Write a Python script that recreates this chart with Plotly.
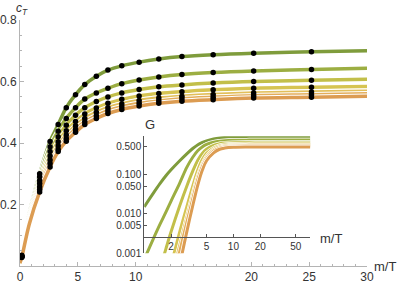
import plotly.graph_objects as go

# ---------------- data ----------------
x_line = [0, 0.15, 0.8, 1.7, 2.6, 3.3, 4.0, 4.8, 5.6, 6.6, 7.6, 8.8, 10.3, 12.0, 14.0, 16.7, 20.2, 25.2, 30]
c1 = [0.012, 0.035, 0.170, 0.300, 0.405, 0.460, 0.515, 0.557, 0.590, 0.617, 0.637, 0.651, 0.663, 0.673, 0.681, 0.687, 0.692, 0.697, 0.700]
c2 = [0.011, 0.033, 0.163, 0.290, 0.388, 0.438, 0.480, 0.515, 0.543, 0.563, 0.578, 0.593, 0.605, 0.615, 0.623, 0.629, 0.634, 0.639, 0.643]
c3 = [0.010, 0.032, 0.156, 0.278, 0.372, 0.420, 0.458, 0.490, 0.515, 0.535, 0.550, 0.563, 0.574, 0.583, 0.589, 0.595, 0.600, 0.604, 0.607]
c4 = [0.010, 0.031, 0.150, 0.268, 0.358, 0.404, 0.440, 0.470, 0.494, 0.514, 0.529, 0.542, 0.553, 0.561, 0.567, 0.573, 0.578, 0.581, 0.584]
c5 = [0.010, 0.030, 0.145, 0.258, 0.345, 0.391, 0.426, 0.456, 0.480, 0.500, 0.515, 0.527, 0.538, 0.546, 0.552, 0.558, 0.563, 0.566, 0.568]
c6 = [0.010, 0.029, 0.140, 0.249, 0.333, 0.380, 0.415, 0.445, 0.469, 0.489, 0.505, 0.518, 0.529, 0.537, 0.544, 0.549, 0.554, 0.557, 0.560]
c7 = [0.010, 0.028, 0.136, 0.241, 0.322, 0.372, 0.406, 0.435, 0.460, 0.480, 0.496, 0.509, 0.520, 0.529, 0.536, 0.541, 0.546, 0.549, 0.552]
main_series = [c1, c2, c3, c4, c5, c6, c7]
dot_index = [1, 3, 4, 5, 6, 7, 8, 9, 10, 11, 12, 13, 14, 15, 16, 17]

g_x = [1, 1.25, 1.5, 1.75, 2, 2.5, 3, 3.5, 4, 4.5, 5, 6, 7, 8, 10, 15, 20, 30, 50, 75]
G1 = [0.015, 0.032, 0.058, 0.092, 0.13, 0.22, 0.33, 0.45, 0.56, 0.64, 0.70, 0.78, 0.83, 0.855, 0.875, 0.885, 0.888, 0.89, 0.89, 0.89]
G2 = [0.0007, 0.0022, 0.0054, 0.011, 0.021, 0.06, 0.15, 0.27, 0.40, 0.50, 0.57, 0.65, 0.69, 0.71, 0.725, 0.733, 0.735, 0.736, 0.736, 0.736]
G3 = [None, 0.00012, 0.0004, 0.0013, 0.0035, 0.016, 0.05, 0.12, 0.23, 0.34, 0.43, 0.54, 0.59, 0.615, 0.63, 0.637, 0.639, 0.64, 0.64, 0.64]
G4 = [None, None, None, 0.00015, 0.0005, 0.0035, 0.015, 0.05, 0.13, 0.24, 0.34, 0.46, 0.53, 0.56, 0.58, 0.588, 0.59, 0.59, 0.59, 0.59]
G5 = [None, None, None, None, 0.0002, 0.0016, 0.008, 0.03, 0.09, 0.18, 0.28, 0.42, 0.49, 0.52, 0.54, 0.548, 0.55, 0.55, 0.55, 0.55]
G6 = [None, None, None, None, 0.00012, 0.0011, 0.006, 0.024, 0.075, 0.16, 0.25, 0.39, 0.46, 0.49, 0.51, 0.518, 0.52, 0.52, 0.52, 0.52]
G7 = [None, None, None, None, None, 0.0005, 0.0035, 0.016, 0.055, 0.13, 0.22, 0.35, 0.43, 0.46, 0.48, 0.488, 0.49, 0.49, 0.49, 0.49]
inset_series = [G1, G2, G3, G4, G5, G6, G7]

colors = ['#7f9c3c', '#9cae42', '#c2bf4a', '#d6c452', '#e2bf5a', '#e3ad5a', '#dc9c52']

x_tickvals = [0, 5, 10, 20, 25, 30]
y_tickvals = [0.2, 0.4, 0.6, 0.8]
y_ticktext = ['0.2', '0.4', '0.6', '0.8']
gx_tickvals = [2, 5, 10, 20, 50]
gy_tickvals = [0.001, 0.005, 0.01, 0.05, 0.1, 0.5]
gy_ticktext = ['0.001', '0.005', '0.010', '0.050', '0.100', '0.500']

# ---------------- figure ----------------
fig = go.Figure()

for ys, col in zip(main_series, colors):
    fig.add_trace(go.Scatter(x=x_line, y=ys, mode='lines', line=dict(color='white', width=5.5, shape='spline'),
                             hoverinfo='skip', xaxis='x', yaxis='y'))
    fig.add_trace(go.Scatter(x=x_line, y=ys, mode='lines', line=dict(color=col, width=3.5, shape='spline'),
                             xaxis='x', yaxis='y'))
for ys in main_series:
    fig.add_trace(go.Scatter(x=[x_line[i] for i in dot_index], y=[ys[i] for i in dot_index], mode='markers',
                             marker=dict(color='black', size=5.5), xaxis='x', yaxis='y'))

for ys, col in zip(inset_series, colors):
    fig.add_trace(go.Scatter(x=g_x, y=ys, mode='lines', line=dict(color='white', width=4.5, shape='spline'),
                             hoverinfo='skip', xaxis='x2', yaxis='y2'))
    fig.add_trace(go.Scatter(x=g_x, y=ys, mode='lines', line=dict(color=col, width=3, shape='spline'),
                             xaxis='x2', yaxis='y2'))

axis_grey = '#b4b4b4'
fig.update_layout(
    width=399, height=283,
    margin=dict(l=20, r=32, t=20, b=17, autoexpand=False),
    plot_bgcolor='white', paper_bgcolor='white',
    showlegend=False,
    font=dict(family='Liberation Sans', size=12, color='#333'),
    xaxis=dict(range=[0, 30], showline=True, linecolor=axis_grey, linewidth=1, automargin=False,
               ticks='inside', ticklen=4, tickcolor=axis_grey,
               tickmode='array', tickvals=x_tickvals,
               showgrid=False, zeroline=False,
               minor=dict(ticks='inside', ticklen=2, tickcolor=axis_grey, tickmode='linear', tick0=0, dtick=1, showgrid=False),
               tickfont=dict(size=12)),
    yaxis=dict(range=[0, 0.8], showline=True, linecolor=axis_grey, linewidth=1, automargin=False,
               ticks='inside', ticklen=4, tickcolor=axis_grey,
               tickmode='array', tickvals=y_tickvals, ticktext=y_ticktext,
               showgrid=False, zeroline=False,
               minor=dict(ticks='inside', ticklen=2, tickcolor=axis_grey, tickmode='linear', tick0=0, dtick=0.05, showgrid=False),
               tickfont=dict(size=12)),
    xaxis2=dict(type='log', range=[0, 1.86], domain=[0.358, 0.836], anchor='free', position=0.119, automargin=False,
                showline=True, linecolor='#555', linewidth=1, ticks='inside', ticklen=3, tickcolor='#555',
                tickmode='array', tickvals=gx_tickvals, showgrid=False, zeroline=False,
                tickfont=dict(size=10)),
    yaxis2=dict(type='log', range=[-3, -0.04], domain=[0.0516, 0.527], anchor='x2', automargin=False,
                showline=True, linecolor='#555', linewidth=1, ticks='inside', ticklen=3, tickcolor='#555',
                tickmode='array', tickvals=gy_tickvals, ticktext=gy_ticktext, showgrid=False, zeroline=False,
                tickfont=dict(size=10)),
    annotations=[
        dict(text='<i>c</i><sub><i>T</i></sub>', xref='paper', yref='paper', x=0.006, y=1.045,
             xanchor='center', yanchor='middle', showarrow=False, borderpad=0, font=dict(size=12, color='#333')),
        dict(text='m/T', xref='paper', yref='paper', x=1.052, y=0.0, xanchor='center', yanchor='middle',
             showarrow=False, font=dict(size=13, color='#333')),
        dict(text='m/T', xref='paper', yref='paper', x=0.896, y=0.11, xanchor='center', yanchor='middle',
             showarrow=False, font=dict(size=13, color='#333')),
        dict(text='G', xref='paper', yref='paper', x=0.375, y=0.577, xanchor='center', yanchor='middle',
             showarrow=False, font=dict(size=13, color='#333')),
    ],
)

fig.write_html('out.html', config={'displayModeBar': False},
               post_script="document.body.style.margin='0px';document.body.style.overflow='hidden';")
